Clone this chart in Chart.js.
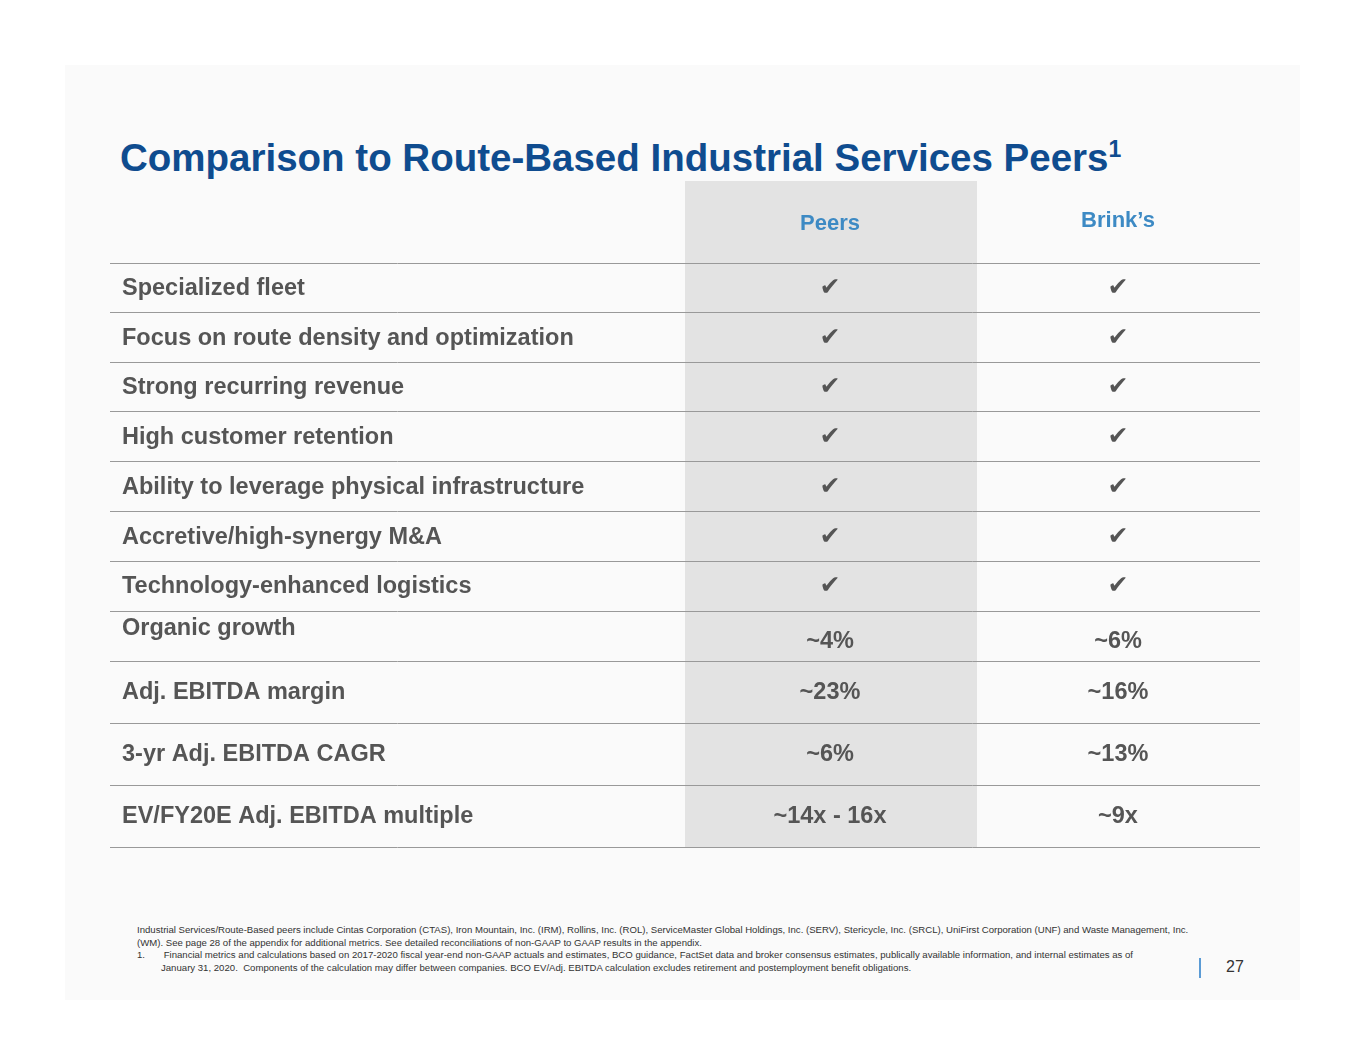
<!DOCTYPE html>
<html><head><meta charset="utf-8">
<script src="https://cdn.jsdelivr.net/npm/chart.js@4"></script>
<style>
body{margin:0;background:#fff;font-family:"Liberation Sans",Arial,sans-serif;}
#bg{position:absolute;left:65px;top:65px;width:1235px;height:935px;background:#fafafa;}
h1{position:absolute;left:120px;top:136px;margin:0;font-size:38.5px;color:#0f4c8f;font-weight:bold;}
h1 sup{font-size:23px;}
#wrap{position:absolute;left:110px;top:181px;width:1150px;height:667px;}
#foot{position:absolute;left:137px;top:924px;width:1065px;font-size:9.6px;color:#333;line-height:12.5px;}
#pg{position:absolute;left:1199px;top:958px;font-size:16px;color:#333;border-left:2px solid #5b9bd5;padding-left:25px;height:20px;}
</style></head><body>
<div id="bg"></div>
<h1>Comparison to Route-Based Industrial Services Peers<sup>1</sup></h1>
<div id="wrap"><canvas id="c"></canvas></div>
<div id="foot">Industrial Services/Route-Based peers include Cintas Corporation (CTAS), Iron Mountain, Inc. (IRM), Rollins, Inc. (ROL), ServiceMaster Global Holdings, Inc. (SERV), Stericycle, Inc. (SRCL), UniFirst Corporation (UNF) and Waste Management, Inc. (WM). See page 28 of the appendix for additional metrics. See detailed reconciliations of non-GAAP to GAAP results in the appendix.<br>1.&nbsp;&nbsp;&nbsp;&nbsp;&nbsp;&nbsp;&nbsp;Financial metrics and calculations based on 2017-2020 fiscal year-end non-GAAP actuals and estimates, BCO guidance, FactSet data and broker consensus estimates, publically available information, and internal estimates as of<br>&nbsp;&nbsp;&nbsp;&nbsp;&nbsp;&nbsp;&nbsp;&nbsp;&nbsp;January 31, 2020.&nbsp; Components of the calculation may differ between companies. BCO EV/Adj. EBITDA calculation excludes retirement and postemployment benefit obligations.</div>
<div id="pg">27</div>
<script>
const rows = ["", "Specialized fleet","Focus on route density and optimization","Strong recurring revenue","High customer retention","Ability to leverage physical infrastructure","Accretive/high-synergy M&A","Technology-enhanced logistics","Organic growth","Adj. EBITDA margin","3-yr Adj. EBITDA CAGR","EV/FY20E Adj. EBITDA multiple"];
const columns = ["Peers","Brink\u2019s"];
const peers = ["","\u2714","\u2714","\u2714","\u2714","\u2714","\u2714","\u2714","~4%","~23%","~6%","~14x - 16x"];
const brinks = ["","\u2714","\u2714","\u2714","\u2714","\u2714","\u2714","\u2714","~6%","~16%","~13%","~9x"];
const rowEdges = [0,83,132,182,231,281,331,380,430,480,542,604,666];
const bandX = [575,867];
const colX = [720,1008];

const tablePlugin = {
  id:'table',
  beforeDatasetsDraw(chart){
    const {ctx} = chart, x = chart.scales.x, y = chart.scales.y;
    ctx.save();
    ctx.fillStyle='#e3e3e3';
    const x0=x.getPixelForValue(bandX[0]), x1=x.getPixelForValue(bandX[1]);
    const y0=y.getPixelForValue(0), y1=y.getPixelForValue(666);
    ctx.fillRect(x0,y0,x1-x0,y1-y0);
    ctx.strokeStyle='#999';ctx.lineWidth=1;
    rowEdges.slice(1).forEach(e=>{
      const py=Math.round(y.getPixelForValue(e))-0.5;
      ctx.beginPath();ctx.moveTo(x.left,py);ctx.lineTo(x.right,py);ctx.stroke();
    });
    ctx.textBaseline='middle';
    rows.forEach((r,i)=>{
      const cy = y.getPixelForValue((rowEdges[i]+rowEdges[i+1])/2);
      ctx.fillStyle='#555';ctx.textAlign='left';
      ctx.font='bold 23.5px "Liberation Sans", Arial';
      ctx.fillText(r, x.getPixelForValue(12), i===8?cy-8:cy);
      [peers[i],brinks[i]].forEach((v,j)=>{
        ctx.textAlign='center';
        if(v==='\u2714'){ctx.font='25px "DejaVu Sans"';}
        else {ctx.font='bold 23.5px "Liberation Sans", Arial';}
        ctx.fillStyle='#555';
        ctx.fillText(v, x.getPixelForValue(colX[j]), i===8?cy+5:cy);
      });
    });
    ctx.font='bold 22px "Liberation Sans", Arial';ctx.fillStyle='#3d8ac4';ctx.textAlign='center';
    ctx.fillText(columns[0],x.getPixelForValue(colX[0]),y.getPixelForValue(43));
    ctx.fillText(columns[1],x.getPixelForValue(colX[1]),y.getPixelForValue(40));
    ctx.restore();
  }
};
new Chart(document.getElementById('c'),{
  type:'scatter',
  data:{datasets:[{data:[]}]},
  options:{responsive:true,maintainAspectRatio:false,animation:false,
    layout:{padding:0},
    plugins:{legend:{display:false},tooltip:{enabled:false}},
    scales:{x:{type:'linear',min:0,max:1150,display:false},y:{type:'linear',min:0,max:666,reverse:true,display:false}}},
  plugins:[tablePlugin]
});
</script>
</body></html>
